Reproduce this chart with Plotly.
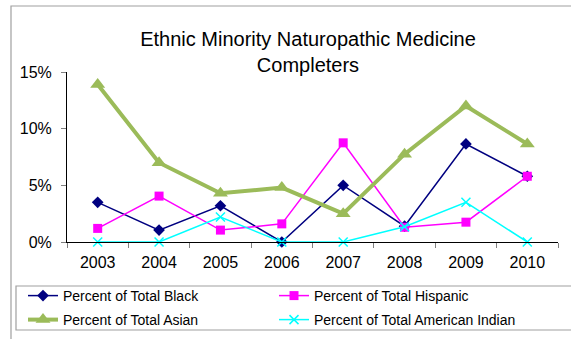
import plotly.graph_objects as go

years = ["2003", "2004", "2005", "2006", "2007", "2008", "2009", "2010"]
black = [3.5, 1.05, 3.2, 0.0, 5.0, 1.4, 8.65, 5.8]
hispanic = [1.2, 4.05, 1.05, 1.6, 8.75, 1.3, 1.75, 5.8]
asian = [13.9, 7.0, 4.3, 4.8, 2.5, 7.75, 12.0, 8.65]
am_indian = [0.0, 0.0, 2.2, 0.0, 0.0, 1.35, 3.5, 0.0]
y_ticks = [0, 5, 10, 15]
y_tick_labels = ["0%", "5%", "10%", "15%"]

W, H = 571, 339
L, R, T, B = 67, 13, 72, 97
pw, ph = W - L - R, H - T - B

def px_x(x):
    return (x - L) / pw

def px_y(y):
    return (H - B - y) / ph

fig = go.Figure()
fig.add_trace(go.Scatter(x=years, y=black, name="Percent of Total Black", mode="lines+markers",
                         line=dict(color="#000080", width=1.5), cliponaxis=False,
                         marker=dict(symbol="diamond", size=9, color="#000080"), legend="legend"))
fig.add_trace(go.Scatter(x=years, y=hispanic, name="Percent of Total Hispanic", mode="lines+markers",
                         line=dict(color="#FF00FF", width=1.5), cliponaxis=False,
                         marker=dict(symbol="square", size=9, color="#FF00FF"), legend="legend"))
fig.add_trace(go.Scatter(x=years, y=asian, name="Percent of Total Asian", mode="lines+markers",
                         line=dict(color="#9BBB59", width=4), cliponaxis=False,
                         marker=dict(symbol="triangle-up", size=13, color="#9BBB59"), legend="legend2"))
fig.add_trace(go.Scatter(x=years, y=am_indian, name="Percent of Total American Indian", mode="lines+markers",
                         line=dict(color="#00FFFF", width=1.5), cliponaxis=False,
                         marker=dict(symbol="x-thin", size=9, line=dict(color="#00FFFF", width=1.5)),
                         legend="legend2"))

font_family = "Liberation Sans, Arial, sans-serif"
legend_common = dict(orientation="h", entrywidth=206, entrywidthmode="pixels",
                     font=dict(family=font_family, size=14, color="black"),
                     bgcolor="rgba(0,0,0,0)", borderwidth=0, xanchor="left", yanchor="middle",
                     itemclick=False, itemdoubleclick=False)

fig.update_layout(
    width=W, height=H,
    margin=dict(l=L, r=R, t=T, b=B, autoexpand=False),
    paper_bgcolor="white", plot_bgcolor="white",
    font=dict(family=font_family, color="black"),
    title=dict(text="Ethnic Minority Naturopathic Medicine<br>Completers",
               font=dict(family=font_family, size=20, color="black"),
               x=px_x(308), xref="paper", xanchor="center", y=1 - 46 / H, yanchor="middle"),
    legend=dict(x=px_x(23), y=px_y(296), **legend_common),
    legend2=dict(x=px_x(23), y=px_y(320), **legend_common),
    xaxis=dict(type="category", range=[-0.5, 7.5], showline=True, linecolor="black", linewidth=1,
               ticks="outside", ticklen=5, tickcolor="#808080", tickson="boundaries",
               showgrid=False, zeroline=False, ticklabelstandoff=6,
               tickfont=dict(family=font_family, size=16, color="black")),
    yaxis=dict(range=[0, 15], tickvals=y_ticks, ticktext=y_tick_labels, showline=True,
               linecolor="black", linewidth=1, ticks="outside", ticklen=5, tickcolor="#808080",
               showgrid=False, zeroline=False, ticklabelstandoff=6,
               tickfont=dict(family=font_family, size=16, color="black")),
    shapes=[
        dict(type="rect", xref="paper", yref="paper", x0=px_x(11), x1=px_x(W + 5),
             y0=px_y(H + 5), y1=px_y(6), line=dict(color="#A0A0A0", width=1.2), layer="below"),
        dict(type="rect", xref="paper", yref="paper", x0=px_x(16), x1=px_x(W + 5),
             y0=px_y(330), y1=px_y(286), line=dict(color="#A0A0A0", width=1.2), layer="below"),
    ],
)

fig.write_html("out.html", post_script="document.body.style.margin='0';",
               config={"displayModeBar": False})
